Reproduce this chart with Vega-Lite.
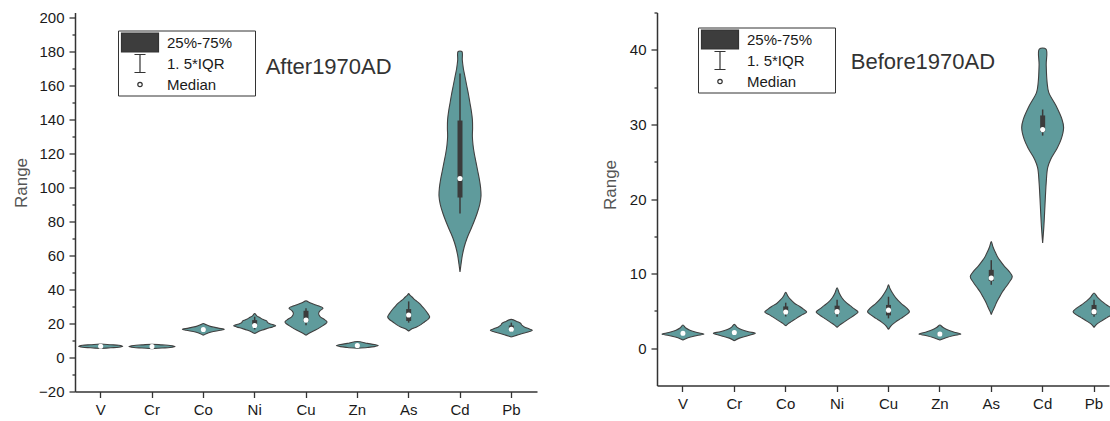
{
"$schema": "https://vega.github.io/schema/vega-lite/v6.json",
"padding": {"left": 12, "top": 5.5, "right": 0, "bottom": 0},
"spacing": 64,
"config": {
  "view": {"stroke": null},
  "font": "Liberation Sans",
  "axis": {"domainColor": "#333", "domainWidth": 1.5, "tickColor": "#333", "tickWidth": 1.3, "labelColor": "#1a1a1a", "labelFontSize": 15, "labelFont": "Liberation Sans", "labelOverlap": false, "grid": false, "titleFont": "Liberation Sans", "titleFontWeight": "normal", "titleColor": "#555", "titleFontSize": 17},
  "legend": {"title": null, "orient": "none", "symbolSize": 256, "symbolOpacity": 1, "symbolStrokeColor": "#333333", "symbolStrokeWidth": 1.2, "symbolOffset": 10, "labelOffset": 18, "labelFontSize": 15, "labelFont": "Liberation Sans", "labelColor": "#1a1a1a", "strokeColor": "#333333", "fillColor": "#ffffff", "padding": 3, "rowPadding": -3}
},
"datasets": {
  "keys": [{"k": "25%-75%"}, {"k": "1. 5*IQR"}, {"k": "Median"}],
  "afterStats": [
    {"e": "V", "med": 6.6, "q1": 6.4, "q3": 6.8, "lo": 6.2, "hi": 7.0},
    {"e": "Cr", "med": 6.5, "q1": 6.3, "q3": 6.7, "lo": 6.1, "hi": 6.9},
    {"e": "Co", "med": 16.5, "q1": 16.1, "q3": 17.1, "lo": 15.6, "hi": 17.6},
    {"e": "Ni", "med": 18.8, "q1": 18.0, "q3": 22.0, "lo": 16.5, "hi": 24.0},
    {"e": "Cu", "med": 22.0, "q1": 21.0, "q3": 27.5, "lo": 19.0, "hi": 29.0},
    {"e": "Zn", "med": 7.1, "q1": 6.9, "q3": 7.3, "lo": 6.7, "hi": 7.5},
    {"e": "As", "med": 25.0, "q1": 21.5, "q3": 28.5, "lo": 20.5, "hi": 33.0},
    {"e": "Cd", "med": 105.3, "q1": 94.1, "q3": 139.4, "lo": 84.7, "hi": 167.0},
    {"e": "Pb", "med": 16.6, "q1": 16.0, "q3": 18.8, "lo": 15.0, "hi": 20.5}
  ],
  "beforeStats": [
    {"e": "V", "med": 2.0, "q1": 1.9, "q3": 2.1, "lo": 1.8, "hi": 2.2},
    {"e": "Cr", "med": 2.1, "q1": 2.0, "q3": 2.2, "lo": 1.9, "hi": 2.3},
    {"e": "Co", "med": 4.85, "q1": 4.6, "q3": 5.6, "lo": 4.25, "hi": 6.1},
    {"e": "Ni", "med": 4.9, "q1": 4.6, "q3": 5.7, "lo": 4.2, "hi": 6.5},
    {"e": "Cu", "med": 5.1, "q1": 4.4, "q3": 5.8, "lo": 4.0, "hi": 6.9},
    {"e": "Zn", "med": 1.9, "q1": 1.8, "q3": 2.0, "lo": 1.7, "hi": 2.1},
    {"e": "As", "med": 9.4, "q1": 9.0, "q3": 10.5, "lo": 8.5, "hi": 11.8},
    {"e": "Cd", "med": 29.3, "q1": 29.0, "q3": 31.2, "lo": 28.5, "hi": 32.0},
    {"e": "Pb", "med": 4.9, "q1": 4.5, "q3": 5.8, "lo": 4.2, "hi": 6.5}
  ],
  "afterPath": [
    {"e":"V","v":5.3,"d":0},{"e":"V","v":5.7,"d":-0.48},{"e":"V","v":6.0,"d":-0.86},{"e":"V","v":6.6,"d":-1.05},{"e":"V","v":7.2,"d":-0.86},{"e":"V","v":7.5,"d":-0.48},{"e":"V","v":7.9,"d":0},{"e":"V","v":7.5,"d":0.48},{"e":"V","v":7.2,"d":0.86},{"e":"V","v":6.6,"d":1.05},{"e":"V","v":6.0,"d":0.86},{"e":"V","v":5.7,"d":0.48},{"e":"V","v":5.3,"d":0},
    {"e":"Cr","v":5.2,"d":0},{"e":"Cr","v":5.6,"d":-0.48},{"e":"Cr","v":5.9,"d":-0.86},{"e":"Cr","v":6.5,"d":-1.1},{"e":"Cr","v":7.1,"d":-0.86},{"e":"Cr","v":7.4,"d":-0.48},{"e":"Cr","v":7.8,"d":0},{"e":"Cr","v":7.4,"d":0.48},{"e":"Cr","v":7.1,"d":0.86},{"e":"Cr","v":6.5,"d":1.1},{"e":"Cr","v":5.9,"d":0.86},{"e":"Cr","v":5.6,"d":0.48},{"e":"Cr","v":5.2,"d":0},
    {"e":"Co","v":13.1,"d":0},{"e":"Co","v":14,"d":-0.14},{"e":"Co","v":15,"d":-0.38},{"e":"Co","v":16,"d":-0.81},{"e":"Co","v":16.6,"d":-1},{"e":"Co","v":17.3,"d":-0.71},{"e":"Co","v":18.3,"d":-0.33},{"e":"Co","v":19.2,"d":-0.14},{"e":"Co","v":20,"d":0},{"e":"Co","v":19.2,"d":0.14},{"e":"Co","v":18.3,"d":0.33},{"e":"Co","v":17.3,"d":0.71},{"e":"Co","v":16.6,"d":1},{"e":"Co","v":16,"d":0.81},{"e":"Co","v":15,"d":0.38},{"e":"Co","v":14,"d":0.14},{"e":"Co","v":13.1,"d":0},
    {"e":"Ni","v":14.1,"d":0},{"e":"Ni","v":15,"d":-0.14},{"e":"Ni","v":16,"d":-0.33},{"e":"Ni","v":17,"d":-0.57},{"e":"Ni","v":18,"d":-0.86},{"e":"Ni","v":18.7,"d":-1},{"e":"Ni","v":19.5,"d":-0.81},{"e":"Ni","v":20.5,"d":-0.62},{"e":"Ni","v":21.5,"d":-0.57},{"e":"Ni","v":22.5,"d":-0.38},{"e":"Ni","v":23.5,"d":-0.24},{"e":"Ni","v":24.5,"d":-0.1},{"e":"Ni","v":25.9,"d":0},{"e":"Ni","v":24.5,"d":0.1},{"e":"Ni","v":23.5,"d":0.24},{"e":"Ni","v":22.5,"d":0.38},{"e":"Ni","v":21.5,"d":0.57},{"e":"Ni","v":20.5,"d":0.62},{"e":"Ni","v":19.5,"d":0.81},{"e":"Ni","v":18.7,"d":1},{"e":"Ni","v":18,"d":0.86},{"e":"Ni","v":17,"d":0.57},{"e":"Ni","v":16,"d":0.33},{"e":"Ni","v":15,"d":0.14},{"e":"Ni","v":14.1,"d":0},
    {"e":"Cu","v":13.1,"d":0},{"e":"Cu","v":14.5,"d":-0.19},{"e":"Cu","v":16,"d":-0.43},{"e":"Cu","v":18,"d":-0.71},{"e":"Cu","v":20,"d":-0.95},{"e":"Cu","v":21,"d":-1},{"e":"Cu","v":22.5,"d":-0.86},{"e":"Cu","v":24,"d":-0.67},{"e":"Cu","v":26,"d":-0.6},{"e":"Cu","v":27.5,"d":-0.67},{"e":"Cu","v":29,"d":-0.81},{"e":"Cu","v":30,"d":-0.67},{"e":"Cu","v":31,"d":-0.43},{"e":"Cu","v":32.2,"d":-0.19},{"e":"Cu","v":33.3,"d":0},{"e":"Cu","v":32.2,"d":0.19},{"e":"Cu","v":31,"d":0.43},{"e":"Cu","v":30,"d":0.67},{"e":"Cu","v":29,"d":0.81},{"e":"Cu","v":27.5,"d":0.67},{"e":"Cu","v":26,"d":0.6},{"e":"Cu","v":24,"d":0.67},{"e":"Cu","v":22.5,"d":0.86},{"e":"Cu","v":21,"d":1},{"e":"Cu","v":20,"d":0.95},{"e":"Cu","v":18,"d":0.71},{"e":"Cu","v":16,"d":0.43},{"e":"Cu","v":14.5,"d":0.19},{"e":"Cu","v":13.1,"d":0},
    {"e":"Zn","v":5.4,"d":0},{"e":"Zn","v":5.9,"d":-0.48},{"e":"Zn","v":6.4,"d":-0.81},{"e":"Zn","v":7.0,"d":-1},{"e":"Zn","v":7.6,"d":-0.81},{"e":"Zn","v":8.3,"d":-0.48},{"e":"Zn","v":9.4,"d":0},{"e":"Zn","v":8.3,"d":0.48},{"e":"Zn","v":7.6,"d":0.81},{"e":"Zn","v":7.0,"d":1},{"e":"Zn","v":6.4,"d":0.81},{"e":"Zn","v":5.9,"d":0.48},{"e":"Zn","v":5.4,"d":0},
    {"e":"As","v":15.5,"d":0},{"e":"As","v":16.5,"d":-0.1},{"e":"As","v":18,"d":-0.38},{"e":"As","v":19.5,"d":-0.6},{"e":"As","v":20.9,"d":-0.75},{"e":"As","v":22.5,"d":-0.93},{"e":"As","v":23.9,"d":-1},{"e":"As","v":25.5,"d":-0.93},{"e":"As","v":27.8,"d":-0.8},{"e":"As","v":29.8,"d":-0.66},{"e":"As","v":31.8,"d":-0.51},{"e":"As","v":33.7,"d":-0.32},{"e":"As","v":35.6,"d":-0.16},{"e":"As","v":36.7,"d":-0.06},{"e":"As","v":37.6,"d":0},{"e":"As","v":36.7,"d":0.06},{"e":"As","v":35.6,"d":0.16},{"e":"As","v":33.7,"d":0.32},{"e":"As","v":31.8,"d":0.51},{"e":"As","v":29.8,"d":0.66},{"e":"As","v":27.8,"d":0.8},{"e":"As","v":25.5,"d":0.93},{"e":"As","v":23.9,"d":1},{"e":"As","v":22.5,"d":0.93},{"e":"As","v":20.9,"d":0.75},{"e":"As","v":19.5,"d":0.6},{"e":"As","v":18,"d":0.38},{"e":"As","v":16.5,"d":0.1},{"e":"As","v":15.5,"d":0},
    {"e":"Cd","v":50.4,"d":0},{"e":"Cd","v":55,"d":-0.05},{"e":"Cd","v":60,"d":-0.11},{"e":"Cd","v":65,"d":-0.2},{"e":"Cd","v":70,"d":-0.33},{"e":"Cd","v":75,"d":-0.5},{"e":"Cd","v":80,"d":-0.67},{"e":"Cd","v":85,"d":-0.82},{"e":"Cd","v":90,"d":-0.94},{"e":"Cd","v":95,"d":-1},{"e":"Cd","v":100,"d":-0.98},{"e":"Cd","v":105,"d":-0.92},{"e":"Cd","v":110,"d":-0.84},{"e":"Cd","v":115,"d":-0.76},{"e":"Cd","v":120,"d":-0.68},{"e":"Cd","v":125,"d":-0.62},{"e":"Cd","v":130,"d":-0.59},{"e":"Cd","v":135,"d":-0.6},{"e":"Cd","v":140,"d":-0.59},{"e":"Cd","v":145,"d":-0.54},{"e":"Cd","v":150,"d":-0.47},{"e":"Cd","v":155,"d":-0.4},{"e":"Cd","v":160,"d":-0.32},{"e":"Cd","v":165,"d":-0.24},{"e":"Cd","v":170,"d":-0.16},{"e":"Cd","v":175,"d":-0.11},{"e":"Cd","v":180,"d":-0.09},
    {"e":"Cd","v":180,"d":0.09},{"e":"Cd","v":175,"d":0.11},{"e":"Cd","v":170,"d":0.16},{"e":"Cd","v":165,"d":0.24},{"e":"Cd","v":160,"d":0.32},{"e":"Cd","v":155,"d":0.4},{"e":"Cd","v":150,"d":0.47},{"e":"Cd","v":145,"d":0.54},{"e":"Cd","v":140,"d":0.59},{"e":"Cd","v":135,"d":0.6},{"e":"Cd","v":130,"d":0.59},{"e":"Cd","v":125,"d":0.62},{"e":"Cd","v":120,"d":0.68},{"e":"Cd","v":115,"d":0.76},{"e":"Cd","v":110,"d":0.84},{"e":"Cd","v":105,"d":0.92},{"e":"Cd","v":100,"d":0.98},{"e":"Cd","v":95,"d":1},{"e":"Cd","v":90,"d":0.94},{"e":"Cd","v":85,"d":0.82},{"e":"Cd","v":80,"d":0.67},{"e":"Cd","v":75,"d":0.5},{"e":"Cd","v":70,"d":0.33},{"e":"Cd","v":65,"d":0.2},{"e":"Cd","v":60,"d":0.11},{"e":"Cd","v":55,"d":0.05},{"e":"Cd","v":50.4,"d":0},
    {"e":"Pb","v":12.1,"d":0},{"e":"Pb","v":13,"d":-0.24},{"e":"Pb","v":14.3,"d":-0.57},{"e":"Pb","v":15.3,"d":-0.86},{"e":"Pb","v":16,"d":-1},{"e":"Pb","v":17,"d":-0.81},{"e":"Pb","v":18,"d":-0.62},{"e":"Pb","v":19,"d":-0.5},{"e":"Pb","v":20,"d":-0.45},{"e":"Pb","v":21,"d":-0.3},{"e":"Pb","v":22.4,"d":0},{"e":"Pb","v":21,"d":0.3},{"e":"Pb","v":20,"d":0.45},{"e":"Pb","v":19,"d":0.5},{"e":"Pb","v":18,"d":0.62},{"e":"Pb","v":17,"d":0.81},{"e":"Pb","v":16,"d":1},{"e":"Pb","v":15.3,"d":0.86},{"e":"Pb","v":14.3,"d":0.57},{"e":"Pb","v":13,"d":0.24},{"e":"Pb","v":12.1,"d":0}
  ],
  "beforePath": [
    {"e":"V","v":1.1,"d":0},{"e":"V","v":1.4,"d":-0.24},{"e":"V","v":1.7,"d":-0.67},{"e":"V","v":1.9,"d":-1},{"e":"V","v":2.1,"d":-0.67},{"e":"V","v":2.4,"d":-0.33},{"e":"V","v":2.7,"d":-0.14},{"e":"V","v":3.1,"d":0},{"e":"V","v":2.7,"d":0.14},{"e":"V","v":2.4,"d":0.33},{"e":"V","v":2.1,"d":0.67},{"e":"V","v":1.9,"d":1},{"e":"V","v":1.7,"d":0.67},{"e":"V","v":1.4,"d":0.24},{"e":"V","v":1.1,"d":0},
    {"e":"Cr","v":1.0,"d":0},{"e":"Cr","v":1.35,"d":-0.24},{"e":"Cr","v":1.7,"d":-0.67},{"e":"Cr","v":2.0,"d":-1},{"e":"Cr","v":2.2,"d":-0.67},{"e":"Cr","v":2.5,"d":-0.33},{"e":"Cr","v":2.8,"d":-0.14},{"e":"Cr","v":3.2,"d":0},{"e":"Cr","v":2.8,"d":0.14},{"e":"Cr","v":2.5,"d":0.33},{"e":"Cr","v":2.2,"d":0.67},{"e":"Cr","v":2.0,"d":1},{"e":"Cr","v":1.7,"d":0.67},{"e":"Cr","v":1.35,"d":0.24},{"e":"Cr","v":1.0,"d":0},
    {"e":"Co","v":3.0,"d":0},{"e":"Co","v":3.3,"d":-0.12},{"e":"Co","v":3.6,"d":-0.29},{"e":"Co","v":4.0,"d":-0.51},{"e":"Co","v":4.5,"d":-0.8},{"e":"Co","v":4.85,"d":-1},{"e":"Co","v":5.2,"d":-0.86},{"e":"Co","v":5.6,"d":-0.67},{"e":"Co","v":6.0,"d":-0.43},{"e":"Co","v":6.5,"d":-0.24},{"e":"Co","v":7.0,"d":-0.1},{"e":"Co","v":7.5,"d":0},{"e":"Co","v":7.0,"d":0.1},{"e":"Co","v":6.5,"d":0.24},{"e":"Co","v":6.0,"d":0.43},{"e":"Co","v":5.6,"d":0.67},{"e":"Co","v":5.2,"d":0.86},{"e":"Co","v":4.85,"d":1},{"e":"Co","v":4.5,"d":0.8},{"e":"Co","v":4.0,"d":0.51},{"e":"Co","v":3.6,"d":0.29},{"e":"Co","v":3.3,"d":0.12},{"e":"Co","v":3.0,"d":0},
    {"e":"Ni","v":2.8,"d":0},{"e":"Ni","v":3.1,"d":-0.12},{"e":"Ni","v":3.5,"d":-0.33},{"e":"Ni","v":4.0,"d":-0.6},{"e":"Ni","v":4.5,"d":-0.86},{"e":"Ni","v":4.85,"d":-1},{"e":"Ni","v":5.3,"d":-0.81},{"e":"Ni","v":5.7,"d":-0.62},{"e":"Ni","v":6.2,"d":-0.4},{"e":"Ni","v":6.8,"d":-0.22},{"e":"Ni","v":7.4,"d":-0.1},{"e":"Ni","v":8.1,"d":0},{"e":"Ni","v":7.4,"d":0.1},{"e":"Ni","v":6.8,"d":0.22},{"e":"Ni","v":6.2,"d":0.4},{"e":"Ni","v":5.7,"d":0.62},{"e":"Ni","v":5.3,"d":0.81},{"e":"Ni","v":4.85,"d":1},{"e":"Ni","v":4.5,"d":0.86},{"e":"Ni","v":4.0,"d":0.6},{"e":"Ni","v":3.5,"d":0.33},{"e":"Ni","v":3.1,"d":0.12},{"e":"Ni","v":2.8,"d":0},
    {"e":"Cu","v":2.5,"d":0},{"e":"Cu","v":3.0,"d":-0.12},{"e":"Cu","v":3.5,"d":-0.33},{"e":"Cu","v":4.0,"d":-0.6},{"e":"Cu","v":4.5,"d":-0.86},{"e":"Cu","v":4.9,"d":-1},{"e":"Cu","v":5.4,"d":-0.86},{"e":"Cu","v":6.0,"d":-0.6},{"e":"Cu","v":6.7,"d":-0.36},{"e":"Cu","v":7.4,"d":-0.19},{"e":"Cu","v":8.0,"d":-0.07},{"e":"Cu","v":8.5,"d":0},{"e":"Cu","v":8.0,"d":0.07},{"e":"Cu","v":7.4,"d":0.19},{"e":"Cu","v":6.7,"d":0.36},{"e":"Cu","v":6.0,"d":0.6},{"e":"Cu","v":5.4,"d":0.86},{"e":"Cu","v":4.9,"d":1},{"e":"Cu","v":4.5,"d":0.86},{"e":"Cu","v":4.0,"d":0.6},{"e":"Cu","v":3.5,"d":0.33},{"e":"Cu","v":3.0,"d":0.12},{"e":"Cu","v":2.5,"d":0},
    {"e":"Zn","v":1.1,"d":0},{"e":"Zn","v":1.4,"d":-0.29},{"e":"Zn","v":1.7,"d":-0.67},{"e":"Zn","v":1.9,"d":-1},{"e":"Zn","v":2.2,"d":-0.62},{"e":"Zn","v":2.5,"d":-0.33},{"e":"Zn","v":2.8,"d":-0.14},{"e":"Zn","v":3.1,"d":0},{"e":"Zn","v":2.8,"d":0.14},{"e":"Zn","v":2.5,"d":0.33},{"e":"Zn","v":2.2,"d":0.62},{"e":"Zn","v":1.9,"d":1},{"e":"Zn","v":1.7,"d":0.67},{"e":"Zn","v":1.4,"d":0.29},{"e":"Zn","v":1.1,"d":0},
    {"e":"As","v":4.5,"d":0},{"e":"As","v":5.0,"d":-0.07},{"e":"As","v":5.6,"d":-0.17},{"e":"As","v":6.3,"d":-0.28},{"e":"As","v":6.9,"d":-0.4},{"e":"As","v":7.5,"d":-0.52},{"e":"As","v":8.1,"d":-0.67},{"e":"As","v":8.8,"d":-0.85},{"e":"As","v":9.6,"d":-1},{"e":"As","v":10.3,"d":-0.85},{"e":"As","v":11.0,"d":-0.62},{"e":"As","v":11.7,"d":-0.43},{"e":"As","v":12.3,"d":-0.29},{"e":"As","v":13.0,"d":-0.17},{"e":"As","v":13.6,"d":-0.08},{"e":"As","v":14.3,"d":0},{"e":"As","v":13.6,"d":0.08},{"e":"As","v":13.0,"d":0.17},{"e":"As","v":12.3,"d":0.29},{"e":"As","v":11.7,"d":0.43},{"e":"As","v":11.0,"d":0.62},{"e":"As","v":10.3,"d":0.85},{"e":"As","v":9.6,"d":1},{"e":"As","v":8.8,"d":0.85},{"e":"As","v":8.1,"d":0.67},{"e":"As","v":7.5,"d":0.52},{"e":"As","v":6.9,"d":0.4},{"e":"As","v":6.3,"d":0.28},{"e":"As","v":5.6,"d":0.17},{"e":"As","v":5.0,"d":0.07},{"e":"As","v":4.5,"d":0},
    {"e":"Cd","v":14.1,"d":0},{"e":"Cd","v":16.4,"d":-0.06},{"e":"Cd","v":19.1,"d":-0.11},{"e":"Cd","v":22.2,"d":-0.17},{"e":"Cd","v":24.2,"d":-0.24},{"e":"Cd","v":25.3,"d":-0.38},{"e":"Cd","v":26.7,"d":-0.67},{"e":"Cd","v":28,"d":-0.88},{"e":"Cd","v":29.6,"d":-1},{"e":"Cd","v":30.7,"d":-0.92},{"e":"Cd","v":32.5,"d":-0.64},{"e":"Cd","v":34.3,"d":-0.29},{"e":"Cd","v":35.7,"d":-0.21},{"e":"Cd","v":38,"d":-0.17},{"e":"Cd","v":40.1,"d":-0.16},
    {"e":"Cd","v":40.1,"d":0.16},{"e":"Cd","v":38,"d":0.17},{"e":"Cd","v":35.7,"d":0.21},{"e":"Cd","v":34.3,"d":0.29},{"e":"Cd","v":32.5,"d":0.64},{"e":"Cd","v":30.7,"d":0.92},{"e":"Cd","v":29.6,"d":1},{"e":"Cd","v":28,"d":0.88},{"e":"Cd","v":26.7,"d":0.67},{"e":"Cd","v":25.3,"d":0.38},{"e":"Cd","v":24.2,"d":0.24},{"e":"Cd","v":22.2,"d":0.17},{"e":"Cd","v":19.1,"d":0.11},{"e":"Cd","v":16.4,"d":0.06},{"e":"Cd","v":14.1,"d":0},
    {"e":"Pb","v":2.8,"d":0},{"e":"Pb","v":3.2,"d":-0.12},{"e":"Pb","v":3.6,"d":-0.33},{"e":"Pb","v":4.1,"d":-0.62},{"e":"Pb","v":4.5,"d":-0.86},{"e":"Pb","v":4.9,"d":-1},{"e":"Pb","v":5.3,"d":-0.86},{"e":"Pb","v":5.8,"d":-0.6},{"e":"Pb","v":6.3,"d":-0.36},{"e":"Pb","v":6.8,"d":-0.17},{"e":"Pb","v":7.4,"d":0},{"e":"Pb","v":6.8,"d":0.17},{"e":"Pb","v":6.3,"d":0.36},{"e":"Pb","v":5.8,"d":0.6},{"e":"Pb","v":5.3,"d":0.86},{"e":"Pb","v":4.9,"d":1},{"e":"Pb","v":4.5,"d":0.86},{"e":"Pb","v":4.1,"d":0.62},{"e":"Pb","v":3.6,"d":0.33},{"e":"Pb","v":3.2,"d":0.12},{"e":"Pb","v":2.8,"d":0}
  ]
},
"hconcat": [
  {
    "width": 462, "height": 379,
    "resolve": {"axis": {"y": "independent"}},
    "layer": [
      {
        "data": {"name": "afterPath"},
        "mark": {"type": "line", "fill": "#5f9b9c", "stroke": "#404040", "strokeWidth": 1.1, "interpolate": "catmull-rom"},
        "encoding": {
          "x": {"field": "e", "type": "nominal", "scale": {"domain": ["V","Cr","Co","Ni","Cu","Zn","As","Cd","Pb"], "paddingInner": 0, "paddingOuter": 0}, "axis": {"title": null, "labelAngle": 0, "tickSize": 6, "labelPadding": 5, "labelOverlap": false}},
          "xOffset": {"field": "d", "type": "quantitative", "scale": {"domain": [-1.2222, 1.2222]}},
          "y": {"field": "v", "type": "quantitative", "scale": {"domain": [-20, 202.94], "nice": false, "zero": false},
                "axis": {"orient": "left", "title": "Range", "values": [-20,0,20,40,60,80,100,120,140,160,180,200], "labelOverlap": false, "tickSize": 6, "labelPadding": 5, "titleY": 170, "titlePadding": 8}},
          "detail": {"field": "e"},
          "order": {"value": null}
        }
      },
      {
        "data": {"name": "afterStats"},
        "mark": {"type": "rule", "color": "#3b3b3b", "strokeWidth": 1.5},
        "encoding": {"x": {"field": "e", "type": "nominal"}, "y": {"field": "lo", "type": "quantitative", "axis": null}, "y2": {"field": "hi"}}
      },
      {
        "data": {"name": "afterStats"},
        "mark": {"type": "rule", "color": "#3b3b3b", "strokeWidth": 5},
        "encoding": {"x": {"field": "e", "type": "nominal"}, "y": {"field": "q1", "type": "quantitative", "axis": null}, "y2": {"field": "q3"}}
      },
      {
        "data": {"name": "afterStats"},
        "mark": {"type": "point", "filled": true, "color": "#ffffff", "opacity": 1, "size": 26},
        "encoding": {"x": {"field": "e", "type": "nominal"}, "y": {"field": "med", "type": "quantitative",
          "axis": {"orient": "left", "title": null, "values": [-10,10,30,50,70,90,110,130,150,170,190], "labels": false, "domain": false, "tickSize": 3}}}
      },
      {
        "data": {"name": "keys"},
        "mark": {"type": "point", "filled": true, "opacity": 0, "strokeWidth": 1.2},
        "encoding": {
          "shape": {"field": "k", "type": "nominal", "scale": {"domain": ["25%-75%", "1. 5*IQR", "Median"], "range": ["M-2.3125,-1.1875H2.3125V1.1875H-2.3125Z", "M-0.69,-1.125H0.69M0,-1.125V1.125M-0.69,1.125H0.69", "M0.275,0A0.275,0.275,0,1,1,-0.275,0A0.275,0.275,0,1,1,0.275,0ZM13.7,0"]},
            "legend": {"legendX": 43, "legendY": 18}},
          "fill": {"field": "k", "type": "nominal", "scale": {"domain": ["25%-75%", "1. 5*IQR", "Median"], "range": ["#3d3d3d", "#3d3d3d", "#ffffff"]},
            "legend": {"legendX": 43, "legendY": 18}},
          "stroke": {"field": "k", "type": "nominal", "scale": {"domain": ["25%-75%", "1. 5*IQR", "Median"], "range": ["#333333", "#333333", "#333333"]},
            "legend": {"legendX": 43, "legendY": 18}}
        }
      },
      {
        "data": {"values": [{}]},
        "mark": {"type": "text", "text": "After1970AD", "align": "left", "baseline": "alphabetic", "dx": 11, "fontSize": 22, "font": "Liberation Sans", "color": "#333333"},
        "encoding": {"x": {"datum": "Ni", "type": "nominal"}, "y": {"datum": 166.6, "type": "quantitative", "axis": null}}
      }
    ]
  },
  {
    "width": 452, "height": 373,
    "layer": [
      {
        "data": {"name": "beforePath"},
        "mark": {"type": "line", "fill": "#5f9b9c", "stroke": "#404040", "strokeWidth": 1.1, "interpolate": "catmull-rom"},
        "encoding": {
          "x": {"field": "e", "type": "nominal", "scale": {"domain": ["V","Cr","Co","Ni","Cu","Zn","As","Cd","Pb"], "paddingInner": 0.804, "paddingOuter": 0.3, "align": 0.678}, "axis": {"title": null, "labelAngle": 0, "tickSize": 6, "labelPadding": 5, "labelOverlap": false}},
          "xOffset": {"field": "d", "type": "quantitative", "scale": {"domain": [-0.2402, 0.2402]}},
          "y": {"field": "v", "type": "quantitative", "scale": {"domain": [-5, 45], "nice": false, "zero": false},
                "axis": {"title": "Range", "values": [0,5,10,15,20,25,30,35,40,45], "labelOverlap": false, "labelExpr": "datum.value % 10 === 0 ? datum.label : ''", "tickSize": {"condition": {"test": "datum.value % 10 === 0", "value": 6}, "value": 3}, "labelPadding": 5, "titleY": 172, "titlePadding": 10}},
          "detail": {"field": "e"},
          "order": {"value": null}
        }
      },
      {
        "data": {"name": "beforeStats"},
        "mark": {"type": "rule", "color": "#3b3b3b", "strokeWidth": 1.5},
        "encoding": {"x": {"field": "e", "type": "nominal"}, "y": {"field": "lo", "type": "quantitative"}, "y2": {"field": "hi"}}
      },
      {
        "data": {"name": "beforeStats"},
        "mark": {"type": "rule", "color": "#3b3b3b", "strokeWidth": 5},
        "encoding": {"x": {"field": "e", "type": "nominal"}, "y": {"field": "q1", "type": "quantitative"}, "y2": {"field": "q3"}}
      },
      {
        "data": {"name": "beforeStats"},
        "mark": {"type": "point", "filled": true, "color": "#ffffff", "opacity": 1, "size": 26},
        "encoding": {"x": {"field": "e", "type": "nominal"}, "y": {"field": "med", "type": "quantitative"}}
      },
      {
        "data": {"name": "keys"},
        "mark": {"type": "point", "filled": true, "opacity": 0, "strokeWidth": 1.2},
        "encoding": {
          "shape": {"field": "k", "type": "nominal", "scale": {"domain": ["25%-75%", "1. 5*IQR", "Median"], "range": ["M-2.3125,-1.1875H2.3125V1.1875H-2.3125Z", "M-0.69,-1.125H0.69M0,-1.125V1.125M-0.69,1.125H0.69", "M0.275,0A0.275,0.275,0,1,1,-0.275,0A0.275,0.275,0,1,1,0.275,0ZM13.7,0"]},
            "legend": {"legendX": 41, "legendY": 15}},
          "fill": {"field": "k", "type": "nominal", "scale": {"domain": ["25%-75%", "1. 5*IQR", "Median"], "range": ["#3d3d3d", "#3d3d3d", "#ffffff"]},
            "legend": {"legendX": 41, "legendY": 15}},
          "stroke": {"field": "k", "type": "nominal", "scale": {"domain": ["25%-75%", "1. 5*IQR", "Median"], "range": ["#333333", "#333333", "#333333"]},
            "legend": {"legendX": 41, "legendY": 15}}
        }
      },
      {
        "data": {"values": [{}]},
        "mark": {"type": "text", "text": "Before1970AD", "align": "left", "baseline": "alphabetic", "dx": 13.7, "fontSize": 22, "font": "Liberation Sans", "color": "#333333"},
        "encoding": {"x": {"datum": "Ni", "type": "nominal"}, "y": {"datum": 37.45, "type": "quantitative"}}
      }
    ]
  }
],
"resolve": {"scale": {"xOffset": "independent", "shape": "independent", "fill": "independent", "stroke": "independent"}, "legend": {"shape": "independent", "fill": "independent", "stroke": "independent"}}
}
